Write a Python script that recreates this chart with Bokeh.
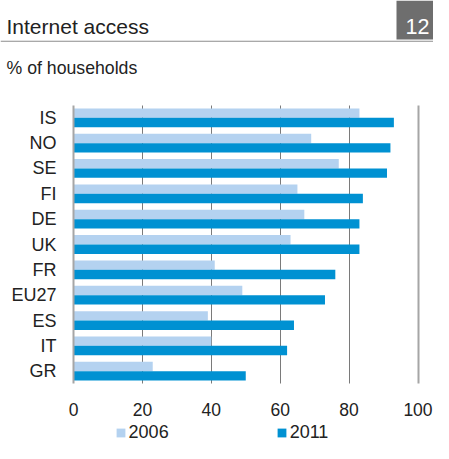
from bokeh.plotting import figure
from bokeh.models import (Range1d, FixedTicker, Legend, LegendItem, Grid,
                          Label, BoxAnnotation, ColumnDataSource)
from bokeh.transform import dodge
from bokeh.embed import file_html
from bokeh.resources import INLINE

# ---- data ----
categories = ["IS", "NO", "SE", "FI", "DE", "UK", "FR", "EU27", "ES", "IT", "GR"]
values_2006 = [83, 69, 77, 65, 67, 63, 41, 49, 39, 40, 23]
values_2011 = [93, 92, 91, 84, 83, 83, 76, 73, 64, 62, 50]
x_ticks = [0, 20, 40, 60, 80, 100]
series_names = ["2006", "2011"]
title_text = "Internet access"
subtitle_text = "% of households"
chart_number = "12"

FONT = "Liberation Sans"
LIGHT = "#b4d2f0"
DARK = "#0091d2"
TEXT = "#222222"
GRID = "#7a7a7a"
AXIS = "#a6a6a6"

W, H = 433, 443
n = len(categories)
y_pos = list(range(n - 1, -1, -1))          # IS on top

# pixel layout of the plotting area (figure = frame)
PX_X = 3.445        # px per percentage point
PX_Y = 25.34        # px per category band
X0_PX = 73.0        # x=0 from the left edge of the figure
Y0_PX = 370.7       # centre of the last band from the top of the figure
x_start = -X0_PX / PX_X
y_start = (Y0_PX - H) / PX_Y

src = ColumnDataSource(dict(y=y_pos, cat=categories,
                            v2006=values_2006, v2011=values_2011))

p = figure(width=W, height=H, output_backend="svg", toolbar_location=None,
           x_range=Range1d(x_start, x_start + W / PX_X),
           y_range=Range1d(y_start, y_start + H / PX_Y),
           min_border=0, min_border_left=0, min_border_right=0,
           min_border_top=0, min_border_bottom=0)
p.title.visible = False
p.outline_line_color = None
p.xgrid.visible = False
p.ygrid.visible = False

r1 = p.hbar(y=dodge("y", 0.185), left=0, right="v2006", height=0.37,
            source=src, fill_color=LIGHT, line_color=None)
r2 = p.hbar(y=dodge("y", -0.185), left=0, right="v2011", height=0.37,
            source=src, fill_color=DARK, line_color=None)

# vertical grid lines limited to the bar area
band = (-0.5, n - 0.5)
for ticks, color, width in ((x_ticks[1:-1], GRID, 1), (x_ticks[-1:], AXIS, 2)):
    g = Grid(dimension=0, ticker=FixedTicker(ticks=ticks),
             grid_line_color=color, grid_line_width=width)
    try:
        g.cross_bounds = band
        p.add_layout(g)
    except Exception:
        p.segment(x0=ticks, x1=ticks, y0=[band[0]] * len(ticks),
                  y1=[band[1]] * len(ticks), line_color=color,
                  line_width=width, level="underlay")

# x axis drawn at the bottom of the bars
xa = p.xaxis[0]
xa.fixed_location = band[0]
xa.bounds = (x_ticks[0], x_ticks[-1])
xa.ticker = FixedTicker(ticks=x_ticks)
xa.axis_line_color = None
xa.major_tick_line_color = None
xa.minor_tick_line_color = None
xa.major_tick_out = 0
xa.major_tick_in = 0
xa.major_label_standoff = 19
xa.major_label_text_font = FONT
xa.major_label_text_font_size = "17.5px"
xa.major_label_text_color = TEXT

# category axis drawn at x = 0
ya = p.yaxis[0]
ya.fixed_location = 0
ya.bounds = band
ya.ticker = FixedTicker(ticks=y_pos)
ya.major_label_overrides = {y: c for y, c in zip(y_pos, categories)}
ya.axis_line_color = AXIS
ya.axis_line_width = 2
ya.major_tick_line_color = None
ya.minor_tick_line_color = None
ya.major_tick_out = 0
ya.major_tick_in = 0
ya.major_label_standoff = 17
ya.major_label_text_font = FONT
ya.major_label_text_font_size = "18px"
ya.major_label_text_color = TEXT


# ---- header (screen units from the bottom-left of the figure) ----
def lab(x, y, text, size, color, align="left"):
    return Label(x=x, y=y, x_units="screen", y_units="screen", text=text,
                 text_font=FONT, text_font_size=size, text_color=color,
                 text_align=align, text_baseline="alphabetic")


def box(l, r, t, b, color):
    return BoxAnnotation(left=l, right=r, top=t, bottom=b,
                         left_units="screen", right_units="screen",
                         top_units="screen", bottom_units="screen",
                         fill_color=color, fill_alpha=1, line_color=None)


p.add_layout(lab(6, H - 25.7, title_text, "21px", TEXT))
p.add_layout(box(396, W, H, H - 39, "#6e6e6e"))
p.add_layout(lab(417, H - 25.7, chart_number, "21.5px", "white", "center"))
p.add_layout(box(0, W, H - 40.3, H - 41.3, "#8c8c8c"))
p.add_layout(lab(6, H - 67.7, subtitle_text, "17.7px", TEXT))

legend = Legend(items=[LegendItem(label=series_names[0], renderers=[r1]),
                       LegendItem(label=series_names[1], renderers=[r2])],
                orientation="horizontal", location=(114.6, 0),
                glyph_width=11, glyph_height=11, label_standoff=3,
                label_width=40, spacing=107, padding=0, margin=0,
                border_line_color=None, background_fill_alpha=0,
                label_text_font=FONT, label_text_font_size="18px",
                label_text_color=TEXT)
p.add_layout(legend, "center")

open("out.html", "w").write(file_html(p, INLINE))
